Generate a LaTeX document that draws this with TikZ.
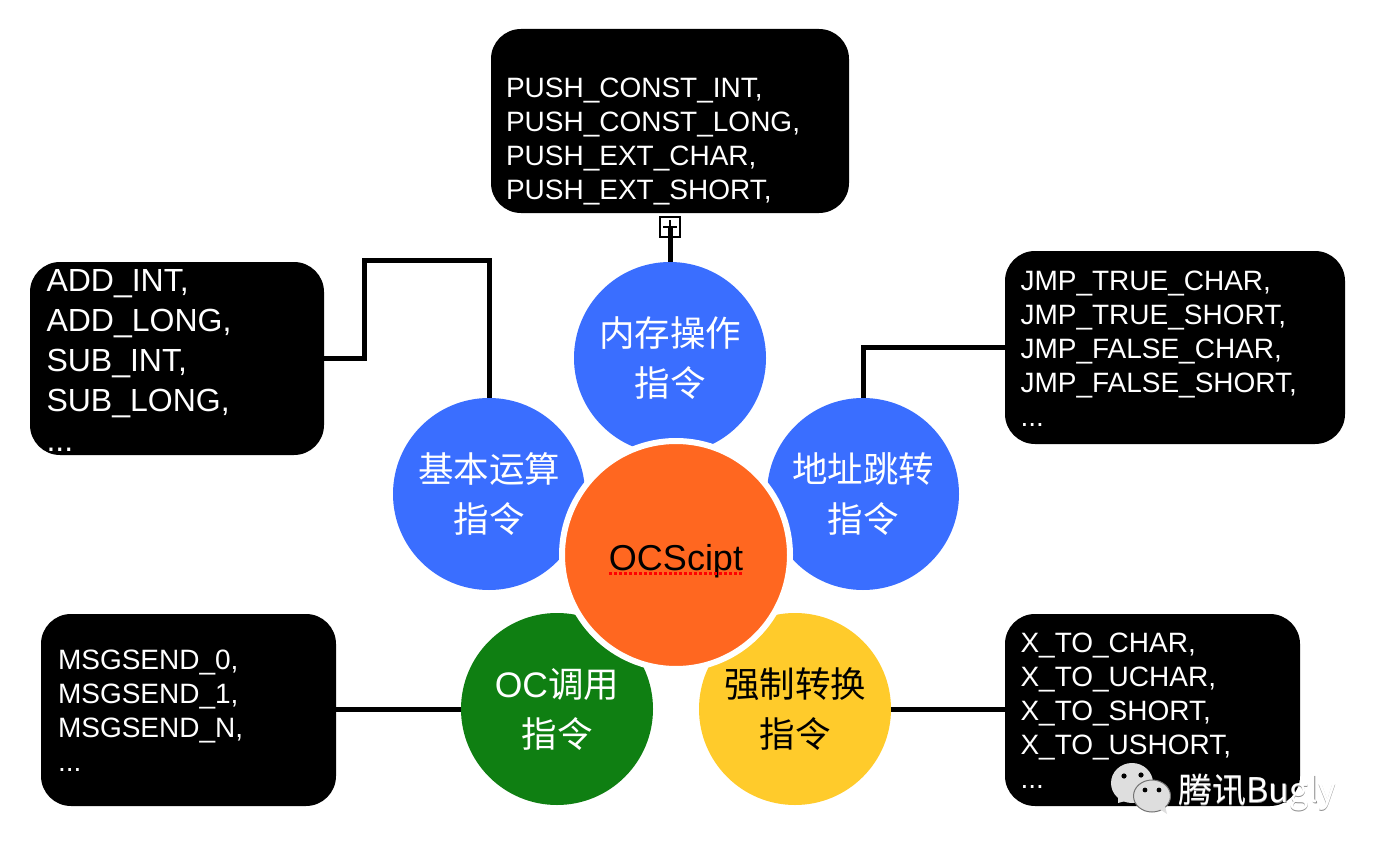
\documentclass[tikz,border=0pt]{standalone}
\usepackage{fontspec}
\setmainfont{Liberation Sans}
\newfontfamily\cjk{Noto Sans CJK SC}
\usetikzlibrary{calc}
\definecolor{blueC}{HTML}{3A6EFF}
\definecolor{greenC}{HTML}{0F7F12}
\definecolor{yellowC}{HTML}{FFCB2B}
\definecolor{orangeC}{HTML}{FF6720}
\tikzset{
 blackbox/.style={fill=black,draw=none,rounded corners=30pt,inner sep=0pt,outer sep=0pt},
 boxtext/.style={anchor=north west,align=left,inner sep=0pt,outer sep=0pt,text=white,font=\fontsize{28}{34}\selectfont},
 bigtext/.style={anchor=north west,align=left,inner sep=0pt,outer sep=0pt,text=white,font=\fontsize{32}{40}\selectfont},
 petal/.style={circle,minimum size=192pt,inner sep=0pt,outer sep=0pt,align=center,font=\cjk\fontsize{35.5}{50}\selectfont},
 link/.style={draw=black,line width=5pt,line join=miter},
 bubble/.style={fill=black!13,draw=black!55,line width=1pt}
}
\begin{document}
\begin{tikzpicture}[x=1pt,y=-1pt]
\useasboundingbox[fill=white] (0,0) rectangle (1382,856);
% boxes
\path[blackbox] (491,29) rectangle (849,213);
\path[blackbox] (30,262) rectangle (324,455);
\node[minimum width=294pt,minimum height=193pt,inner sep=0pt] (bleft) at (177,358) {};
\path[blackbox] (1005,251) rectangle (1345,444);
\node[minimum width=340pt,minimum height=193pt,inner sep=0pt] (bright) at (1175,347) {};
\path[blackbox] (41,614) rectangle (336,806);
\node[minimum width=295pt,minimum height=192pt,inner sep=0pt] (bbl) at (188.5,709) {};
\path[blackbox] (1005,614) rectangle (1300,806);
\node[minimum width=295pt,minimum height=192pt,inner sep=0pt] (bbr) at (1152.5,709) {};
% petals
\node[petal,fill=blueC,text=white] (ptop) at (670,358) {内存操作\\指令};
\node[petal,fill=blueC,text=white] (pleft) at (489,494) {基本运算\\指令};
\node[petal,fill=blueC,text=white] (pright) at (863,494) {地址跳转\\指令};
\node[petal,fill=greenC,text=white] (pbl) at (557,709) {{\rmfamily OC}调用\\指令};
\node[petal,fill=yellowC,text=black] (pbr) at (795,709) {强制转换\\指令};
% collapse marker
\node[draw=black,line width=1.5pt,fill=none,minimum size=20pt,inner sep=0pt] (marker) at (670,227) {};
% connectors
\draw[link] (ptop.north) -- (marker.center);
\draw[link] (bleft.east) -- (364,358) -- (364,260) -- (489,260) -- (pleft.north);
\draw[link] (bright.west) -- (863,347) -- (pright.north);
\draw[link] (bbl.east) -- (pbl.west);
\draw[link] (bbr.west) -- (pbr.east);
\draw[black,line width=1.5pt] ($(marker.center)+(-7,0)$) -- ($(marker.center)+(7,0)$);
\draw[black,line width=1.5pt] (marker.center) ++(0,-7) -- ++(0,8);
% centre
\node[circle,fill=orangeC,draw=white,line width=6pt,minimum size=228pt,inner sep=0pt,text=black] (core) at (676,555) {};
\node[anchor=base,inner sep=0pt,font=\fontsize{36}{40}\selectfont,text=black] (coretext) at (676,570) {OCScipt};
\draw[red,line width=3pt,dash pattern=on 3pt off 2pt] (coretext.base west) ++(0,3) -- ++(133,0);
% texts
\node[boxtext] (t1) at (506,77.5) {PUSH\_CONST\_INT,\\PUSH\_CONST\_LONG,\\PUSH\_EXT\_CHAR,\\PUSH\_EXT\_SHORT,};
\node[bigtext] (t2) at (46.5,269) {ADD\_INT,\\ADD\_LONG,\\SUB\_INT,\\SUB\_LONG,\\...};
\node[boxtext] (t3) at (1020.5,271) {JMP\_TRUE\_CHAR,\\JMP\_TRUE\_SHORT,\\JMP\_FALSE\_CHAR,\\JMP\_FALSE\_SHORT,\\...};
\node[boxtext] (t4) at (58,649.5) {MSGSEND\_0,\\MSGSEND\_1,\\MSGSEND\_N,\\...};
\node[boxtext] (t5) at (1020.5,632.5) {X\_TO\_CHAR,\\X\_TO\_UCHAR,\\X\_TO\_SHORT,\\X\_TO\_USHORT,\\...};
% logo
\path[bubble,draw=none] (1132,783) ellipse [x radius=21,y radius=20];
\path[bubble,draw=none] (1118,796) -- (1118,803) -- (1129,800) -- cycle;
\fill[black] (1124,776) circle (2.6) (1141,775) circle (2.6);
\path[bubble] (1152,796) ellipse [x radius=18.5,y radius=16];
\path[bubble,draw=none] (1158,808) -- (1167,814) -- (1165,806) -- cycle;
\fill[black] (1145,790) circle (2.4) (1159,790) circle (2.4);
\node[anchor=base west,inner sep=0pt,text=black!45,font=\cjk\fontsize{34}{40}\selectfont] (logoshadow) at (1178.7,803) {腾讯Bugly};
\node[anchor=base west,inner sep=0pt,text=white,font=\cjk\fontsize{34}{40}\selectfont] (logotext) at (1178,802) {腾讯Bugly};
\end{tikzpicture}
\end{document}
